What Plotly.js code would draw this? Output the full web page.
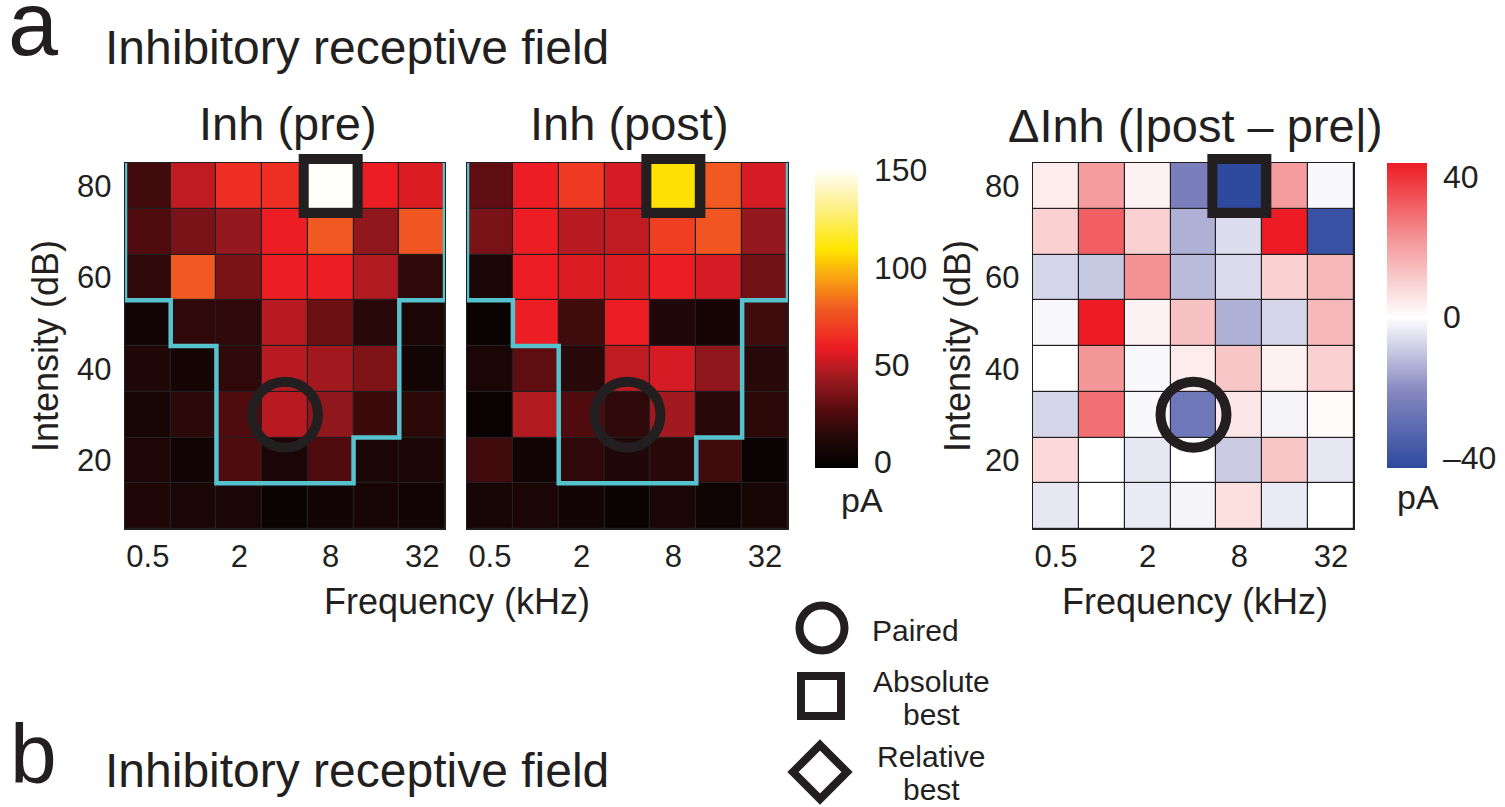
<!DOCTYPE html>
<html><head><meta charset="utf-8">
<script src="https://cdn.plot.ly/plotly-3.0.1.min.js"></script>
<style>html,body{margin:0;padding:0;background:#fff;}#chart{width:1505px;height:807px;}</style>
</head><body><div id="chart"></div>
<script>
// ---------------- DATA ----------------
const freqLabels = ['0.5','1','2','4','8','16','32'];          // kHz
const shownFreqLabels = ['0.5','2','8','32'];
const intensities = [80,70,60,50,40,30,20,10];                   // dB, rows top -> bottom
const intensityTicks = [20,40,60,80];

// Inhibitory current (pA), pre pairing
const inhPre = [
  [21, 50, 64, 64, 150, 59, 55],
  [25, 35, 41, 59, 78, 40, 77],
  [16, 78, 35, 59, 59, 47, 16],
  [5, 16, 16, 48, 32, 14, 9],
  [12, 7, 16, 48, 44, 36, 6],
  [8, 15, 25, 48, 40, 19, 15],
  [11, 5, 25, 9, 25, 9, 9],
  [11, 9, 9, 2, 5, 8, 5]
];
// Inhibitory current (pA), post pairing
const inhPost = [
  [29, 59, 68, 54, 108, 78, 54],
  [35, 59, 48, 50, 70, 77, 41],
  [9, 59, 55, 55, 59, 54, 33],
  [2, 59, 21, 59, 12, 7, 21],
  [9, 29, 14, 50, 54, 40, 14],
  [1, 47, 25, 16, 44, 14, 15],
  [21, 5, 16, 12, 14, 21, 2],
  [8, 9, 5, 1, 9, 4, 8]
];
// Change in inhibition (pA)
const inhDelta = [
  [4, 21, 3, -24, -43, 21, -1],
  [10, 32, 10, -14, -6, 44, -40],
  [-7.5, -10, 23, -12, -6.5, 10, 15],
  [-1.3, 44, 3, 13, -14, -7.5, 15],
  [0, 22, -1, 4, 12, 3, 10],
  [-7.5, 29, -1, -27, 5, -2, 1],
  [8, 0, -4.3, 0, -9, 12, -4.3],
  [-4.3, 0, -3.6, -2, 6.6, -3.6, 0]
];
// Tuning-curve threshold (dB) per frequency (cyan outline)
const tuningThreshold = [60, 50, 20, 20, 20, 30, 60];
// Special tones
const pairedTone = {freq: '4', intensity: 30};
const bestTone = {freq: '8', intensity: 80};
const hotTicks = [0, 50, 100, 150];
const deltaTicks = [-40, 0, 40];
const deltaTickText = ['\u201340', '0', '40'];

// ---------------- STYLE / LAYOUT ----------------
const W = 1505, H = 807;
const px = x => x / W, py = y => 1 - y / H;
const INK = '#231f20';
const CYAN = '#56C2CD';
const REG = '"Liberation Sans", Arial, Helvetica, sans-serif';

const fIdx = freqLabels.map((f, i) => i);
const fPos = f => freqLabels.indexOf(f);
const step = intensities[0] - intensities[1];

const hotScale = [[0,'#000000'],[0.1,'#220808'],[0.2,'#5a0c0f'],[0.3,'#9e1a20'],[0.4,'#ED1C24'],[0.53,'#F15A22'],[0.73,'#FFE600'],[0.87,'#FDF08A'],[1,'#FFFFFF']];
const deltaScale = [[0,'#2E4A9E'],[0.25,'#8587C0'],[0.494,'#FFFFFF'],[0.74,'#F49A9C'],[1,'#ED1C24']];

// tuning outline from thresholds
const topEdge = intensities[0] + step / 2;
const cx = [fIdx[0] - 0.5], cy = [topEdge];
tuningThreshold.forEach((t, i) => { cx.push(i - 0.5, i + 0.5); cy.push(t - step / 2, t - step / 2); });
cx.push(fIdx[fIdx.length - 1] + 0.5); cy.push(topEdge);

const traces = [];
function heat(z, xa, ya, coloraxis) {
  return {type: 'heatmap', z: z, x: fIdx, y: intensities, xaxis: xa, yaxis: ya,
    coloraxis: coloraxis, xgap: 1.2, ygap: 1.2, hoverinfo: 'skip'};
}
function outline(xa, ya) {
  return {type: 'scatter', mode: 'lines', x: cx, y: cy, xaxis: xa, yaxis: ya,
    line: {color: CYAN, width: 4.5}, cliponaxis: false, hoverinfo: 'skip', showlegend: false};
}
function marks(xa, ya) {
  return [
    {type: 'scatter', mode: 'markers', x: [fPos(pairedTone.freq)], y: [pairedTone.intensity], xaxis: xa, yaxis: ya,
      marker: {symbol: 'circle-open', size: 66, color: INK, line: {width: 10, color: INK}}, cliponaxis: false, hoverinfo: 'skip', showlegend: false},
    {type: 'scatter', mode: 'markers', x: [fPos(bestTone.freq)], y: [bestTone.intensity], xaxis: xa, yaxis: ya,
      marker: {symbol: 'square-open', size: 54, color: INK, line: {width: 10, color: INK}}, cliponaxis: false, hoverinfo: 'skip', showlegend: false}
  ];
}
traces.push(heat(inhPre, 'x', 'y', 'coloraxis'), outline('x', 'y'), ...marks('x', 'y'));
traces.push(heat(inhPost, 'x2', 'y2', 'coloraxis'), outline('x2', 'y2'), ...marks('x2', 'y2'));
traces.push(heat(inhDelta, 'x3', 'y3', 'coloraxis2'), ...marks('x3', 'y3'));

function xax(l, r) {
  return {domain: [px(l), px(r)], range: [-0.5, 6.5], tickmode: 'array',
    tickvals: shownFreqLabels.map(fPos), ticktext: shownFreqLabels,
    ticks: '', ticklen: 0, ticklabelstandoff: 0, showgrid: false, zeroline: false,
    showline: true, mirror: true, linecolor: INK, linewidth: 1.2,
    tickfont: {family: REG, size: 31, color: INK}, fixedrange: true};
}
function yax(show, anchor) {
  return {domain: [py(529), py(163)], range: [intensities[intensities.length - 1] - step / 2, topEdge],
    tickmode: 'array', tickvals: intensityTicks, showticklabels: show, anchor: anchor,
    ticks: '', ticklen: 0, ticklabelstandoff: 6, showgrid: false, zeroline: false,
    showline: true, mirror: true, linecolor: INK, linewidth: 1.2,
    tickfont: {family: REG, size: 31, color: INK}, fixedrange: true};
}

const ann = (text, x, y, size, opts) => Object.assign({text: text, xref: 'paper', yref: 'paper',
  x: px(x), y: py(y), showarrow: false, font: {family: REG, size: size, color: INK},
  xanchor: 'center', yanchor: 'middle'}, opts || {});

const annotations = [
  ann('a', 6, 24, 90, {xanchor: 'left'}),
  ann('Inhibitory receptive field', 103, 48, 48, {xanchor: 'left'}),
  ann('Inh (pre)', 288, 124, 47),
  ann('Inh (post)', 629, 124, 47),
  ann('\u0394Inh (|post \u2013 pre|)', 1195, 125, 47),
  ann('Intensity (dB)', 45, 346, 36, {textangle: -90}),
  ann('Intensity (dB)', 957, 346, 36, {textangle: -90}),
  ann('Frequency (kHz)', 457, 601, 36),
  ann('Frequency (kHz)', 1195, 601, 36),
  ann('pA', 862, 500, 34),
  ann('pA', 1418, 497, 34),
  ann('Paired', 870, 630, 30, {xanchor: 'left'}),
  ann('Absolute', 931, 681, 30),
  ann('best', 931, 714, 30),
  ann('Relative', 931, 756, 30),
  ann('best', 931, 789, 30),
  ann('b', 8, 754, 84, {xanchor: 'left'}),
  ann('Inhibitory receptive field', 103, 770, 48, {xanchor: 'left'})
];

const shapes = [
  {type: 'circle', xref: 'paper', yref: 'paper', x0: px(822 - 22.5), x1: px(822 + 22.5), y0: py(628 + 22.5), y1: py(628 - 22.5), line: {color: INK, width: 8}},
  {type: 'rect', xref: 'paper', yref: 'paper', x0: px(801), x1: px(841), y0: py(716), y1: py(676), line: {color: INK, width: 8}},
  {type: 'path', xref: 'paper', yref: 'paper',
    path: `M ${px(820)} ${py(745)} L ${px(847)} ${py(772)} L ${px(820)} ${py(799)} L ${px(793)} ${py(772)} Z`, line: {color: INK, width: 8}}
];

const layout = {
  width: W, height: H, margin: {l: 0, r: 0, t: 0, b: 0},
  paper_bgcolor: '#ffffff', plot_bgcolor: INK, showlegend: false,
  font: {family: REG, color: INK},
  xaxis: Object.assign(xax(125, 445), {anchor: 'y'}),
  yaxis: yax(true, 'x'),
  xaxis2: Object.assign(xax(467, 788), {anchor: 'y2'}),
  yaxis2: yax(false, 'x2'),
  xaxis3: Object.assign(xax(1033, 1354), {anchor: 'y3'}),
  yaxis3: yax(true, 'x3'),
  coloraxis: {cmin: -3, cmax: 151, colorscale: hotScale,
    colorbar: {x: px(815), xanchor: 'left', xref: 'paper', y: py(318), yanchor: 'middle',
      len: 300, lenmode: 'pixels', thickness: 43, thicknessmode: 'pixels', outlinewidth: 0,
      xpad: 0, ypad: 0, tickmode: 'array', tickvals: hotTicks, ticks: 'outside', ticklen: 10, tickcolor: 'rgba(0,0,0,0)',
      tickfont: {family: REG, size: 32, color: INK}}},
  coloraxis2: {cmin: -43, cmax: 44, colorscale: deltaScale,
    colorbar: {x: px(1387), xanchor: 'left', xref: 'paper', y: py(315.5), yanchor: 'middle',
      len: 305, lenmode: 'pixels', thickness: 40, thicknessmode: 'pixels', outlinewidth: 0,
      xpad: 0, ypad: 0, tickmode: 'array', tickvals: deltaTicks, ticktext: deltaTickText, ticks: 'outside', ticklen: 10, tickcolor: 'rgba(0,0,0,0)',
      tickfont: {family: REG, size: 32, color: INK}}},
  annotations: annotations, shapes: shapes
};

Plotly.newPlot('chart', traces, layout, {displayModeBar: false, staticPlot: true});
</script></body></html>
